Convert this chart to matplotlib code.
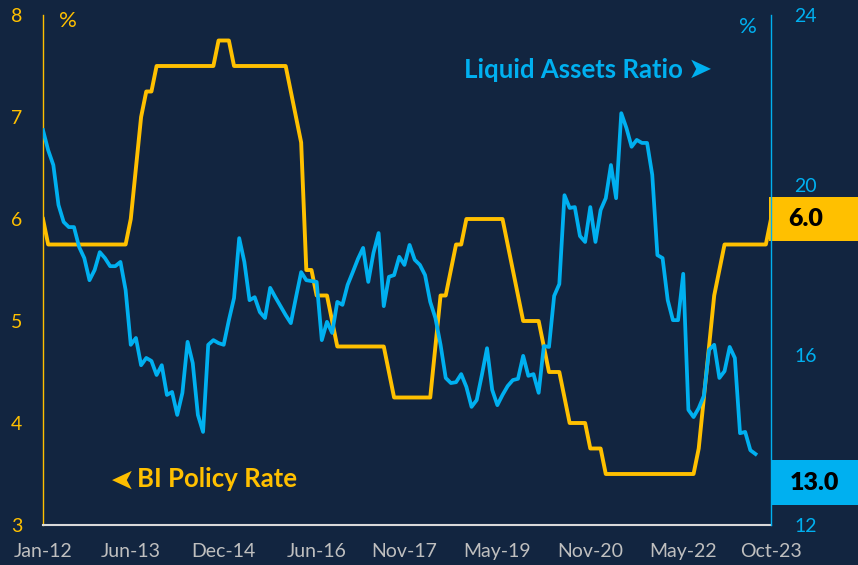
import matplotlib
matplotlib.use("Agg")
import matplotlib.pyplot as plt
from matplotlib.patches import Rectangle
from matplotlib.transforms import blended_transform_factory

# ---------------- data ----------------
# BI policy rate, monthly Jan-2012 .. Oct-2023 (month index 0..141)
bi_rate = ([6.0] + [5.75] * 16 + [6.0, 6.5, 7.0, 7.25, 7.25] + [7.5] * 12 + [7.75] * 3 +
           [7.5] * 11 + [7.25, 7.0, 6.75, 5.5, 5.5, 5.25, 5.25, 5.25, 5.0] + [4.75] * 10 +
           [4.5] + [4.25] * 8 + [4.75, 5.25, 5.25, 5.5, 5.75, 5.75] + [6.0] * 8 +
           [5.75, 5.5, 5.25] + [5.0] * 4 + [4.75] + [4.5] * 3 + [4.25] + [4.0] * 4 +
           [3.75] * 3 + [3.5] * 18 + [3.75, 4.25, 4.75, 5.25, 5.5] + [5.75] * 9 + [6.0])

# Liquid assets ratio, monthly from Jan-2012 (month index 0..138)
liquid_assets = [
    21.29, 20.82, 20.47, 19.53, 19.13, 19.01, 19.01, 18.54, 18.28, 17.76,
    18.00, 18.42, 18.28, 18.09, 18.09, 18.19, 17.53, 16.24, 16.40, 15.76,
    15.93, 15.86, 15.53, 15.76, 15.06, 15.13, 14.59, 15.11, 16.31, 15.81,
    14.59, 14.19, 16.24, 16.35, 16.28, 16.24, 16.82, 17.34, 18.75, 18.19,
    17.29, 17.36, 17.01, 16.87, 17.58, 17.36, 17.15, 16.94, 16.75, 17.36,
    17.95, 17.76, 17.74, 17.72, 16.35, 16.78, 16.52, 17.25, 17.18, 17.65,
    17.95, 18.26, 18.52, 17.72, 18.40, 18.87, 17.15, 17.84, 17.88, 18.31,
    18.12, 18.59, 18.24, 18.12, 17.88, 17.25, 16.87, 16.24, 15.46, 15.34,
    15.36, 15.55, 15.25, 14.78, 14.94, 15.53, 16.16, 15.18, 14.82, 15.06,
    15.27, 15.41, 15.44, 15.98, 15.51, 15.55, 15.11, 16.21, 16.19, 17.39,
    17.67, 19.76, 19.46, 19.48, 18.80, 18.66, 19.48, 18.66, 19.41, 19.69,
    20.47, 19.69, 21.69, 21.34, 20.90, 21.06, 20.99, 20.99, 20.24, 18.35,
    18.28, 17.29, 16.82, 16.82, 17.91, 14.71, 14.54, 14.75, 15.04, 16.12,
    16.24, 15.46, 15.62, 16.19, 15.93, 14.16, 14.19, 13.76, 13.67,
]

tick_months = [0, 17, 35, 53, 70, 88, 106, 124, 141]
tick_labels = ["Jan-12", "Jun-13", "Dec-14", "Jun-16", "Nov-17",
               "May-19", "Nov-20", "May-22", "Oct-23"]
left_ticks = [3, 4, 5, 6, 7, 8]
right_ticks = [12, 16, 20, 24]
bi_label = 6.0
lar_label = 13.0

# ---------------- style ----------------
BG = "#122540"
YEL = "#FFC000"
BLU = "#00B0F0"
GRAY = "#BFBFBF"
FONT = ["Lato", "DejaVu Sans"]
plt.rcParams["font.family"] = FONT

W, H = 858, 565
fig = plt.figure(figsize=(W / 100, H / 100), dpi=100, facecolor=BG)
ax = fig.add_axes([43 / W, 1 - 525 / H, (771 - 43) / W, (525 - 15) / H])
ax.set_facecolor(BG)
ax2 = ax.twinx()

ax.plot(range(len(bi_rate)), bi_rate, color=YEL, lw=2.8, solid_joinstyle="round")
ax2.plot(range(len(liquid_assets)), liquid_assets, color=BLU, lw=2.7,
         solid_joinstyle="round")

ax.set_xlim(0, 141)
ax.set_ylim(3, 8)
ax2.set_ylim(12, 24)
ax.set_yticks(left_ticks)
ax.set_yticklabels([str(t) for t in left_ticks])
ax2.set_yticks(right_ticks)
ax2.set_yticklabels([str(t) for t in right_ticks])
ax.set_xticks(tick_months)
ax.set_xticklabels(tick_labels)

ax.tick_params(axis="y", length=0, pad=15, labelsize=14, labelcolor=YEL)
ax2.tick_params(axis="y", length=0, pad=17, labelsize=14, labelcolor=BLU)
ax.tick_params(axis="x", length=0, pad=13, labelsize=14, labelcolor=GRAY)

for s in ["top", "right"]:
    ax.spines[s].set_visible(False)
for s in ["top", "left", "bottom"]:
    ax2.spines[s].set_visible(False)
ax.spines["left"].set_color(YEL)
ax.spines["left"].set_linewidth(1.0)
ax.spines["bottom"].set_color("#D9D9D9")
ax.spines["bottom"].set_linewidth(1.5)
ax2.spines["right"].set_color(BLU)
ax2.spines["right"].set_linewidth(1.0)

# unit labels
fig.text(68 / W, 1 - 21 / H, "%", color=YEL, fontsize=16, ha="center", va="center")
fig.text(748 / W, 1 - 27 / H, "%", color=BLU, fontsize=16, ha="center", va="center")

# series labels
fig.text(464 / W, 1 - 70 / H, "Liquid Assets Ratio", color=BLU, fontsize=18.5,
         fontweight="bold", ha="left", va="center")
fig.text(700 / W, 1 - 70 / H, "\u27A4", color=BLU, fontsize=21,
         family="DejaVu Sans", ha="center", va="center")
fig.text(137 / W, 1 - 479 / H, "BI Policy Rate", color=YEL, fontsize=18.5,
         fontweight="bold", ha="left", va="center")
fig.text(117 / W, 1 - 477 / H, "\u27A4", color=YEL, fontsize=21, rotation=180,
         family="DejaVu Sans", ha="center", va="center")

# end-value boxes
tr1 = blended_transform_factory(fig.transFigure, ax.transData)
ax.add_patch(Rectangle((769 / W, bi_label - 0.22), (W - 769) / W, 0.44,
                       transform=tr1, facecolor=YEL, edgecolor="none", clip_on=False))
ax.text(806 / W, bi_label, f"{bi_label:.1f}", transform=tr1, color="black",
        fontsize=18, fontweight="heavy", ha="center", va="center", clip_on=False)

tr2 = blended_transform_factory(fig.transFigure, ax2.transData)
ax2.add_patch(Rectangle((772 / W, lar_label - 0.53), (W - 772) / W, 1.06,
                        transform=tr2, facecolor=BLU, edgecolor="none", clip_on=False))
ax2.text(814 / W, lar_label, f"{lar_label:.1f}", transform=tr2, color="black",
         fontsize=18, fontweight="heavy", ha="center", va="center", clip_on=False)

fig.savefig("out.png", dpi=100, facecolor=BG)
